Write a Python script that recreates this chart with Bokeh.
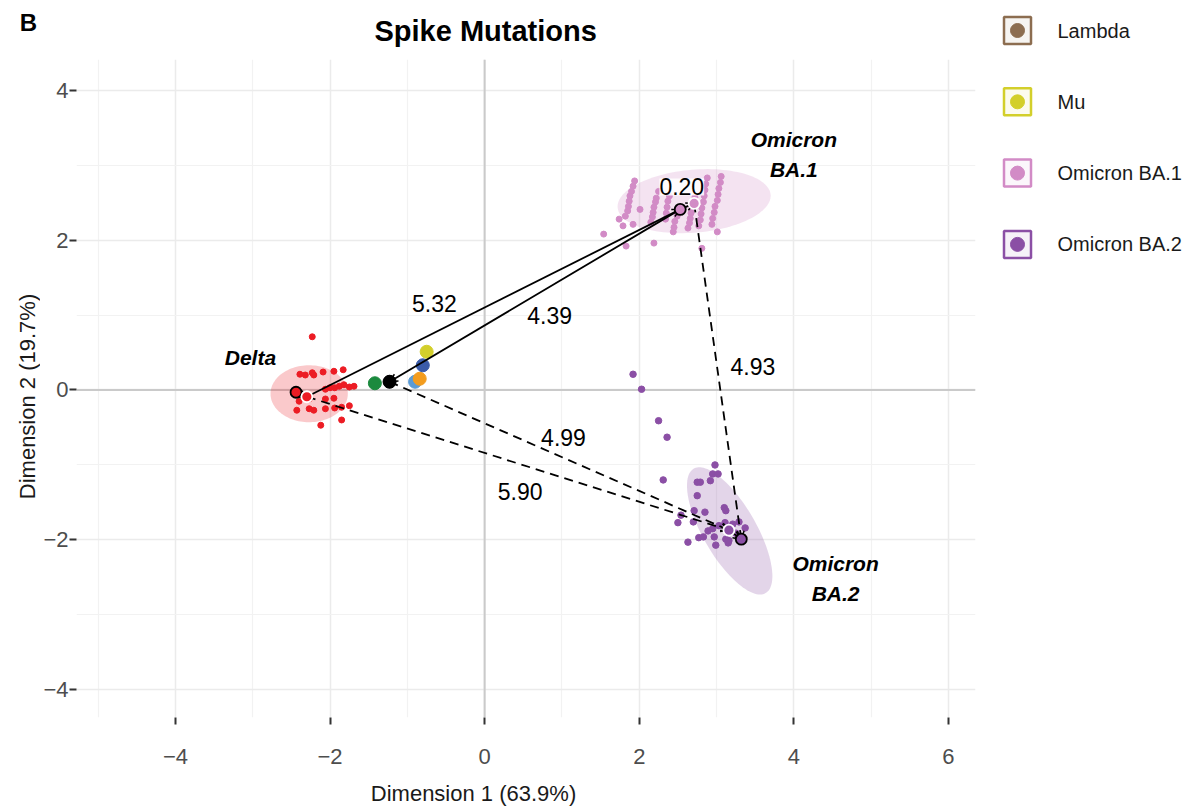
import numpy as np
from bokeh.plotting import figure
from bokeh.layouts import row, column
from bokeh.models import (FixedTicker, Span, Arrow, OpenHead, Range1d)
from bokeh.core.properties import value
from bokeh.embed import file_html
from bokeh.resources import INLINE

FONT = "Liberation Sans"

# ---------------- data ----------------
x_ticks = [-4, -2, 0, 2, 4, 6]
x_tick_labels = ["\u22124", "\u22122", "0", "2", "4", "6"]
x_minor = [-5, -3, -1, 1, 3, 5]
y_ticks = [-4, -2, 0, 2, 4]
y_tick_labels = ["\u22124", "\u22122", "0", "2", "4"]
y_minor = [-3, -1, 1, 3]

delta_x = [-2.23, -2.39, -2.32, -2.23, -2.21, -2.09, -1.95, -1.83, -2.06, -2.00,
           -1.94, -1.88, -1.82, -1.75, -1.69, -2.40, -2.27, -2.43, -2.27, -2.21,
           -2.06, -2.06, -1.95, -1.94, -1.85, -1.75, -1.85, -2.12]
delta_y = [0.71, 0.21, 0.20, 0.23, 0.20, 0.24, 0.25, 0.27, 0.01, 0.03,
           0.03, 0.05, 0.07, 0.04, 0.05, -0.15, -0.12, -0.27, -0.25, -0.27,
           -0.12, -0.25, -0.11, -0.24, -0.23, -0.21, -0.40, -0.47]

ba1_x = [1.94, 1.92, 1.90, 1.88, 1.87, 1.86, 1.85, 1.82,
         1.54, 1.79, 1.74, 1.83, 2.19, 2.01, 1.92,
         2.25, 2.22, 2.21, 2.19, 2.18, 2.17, 2.15,
         2.39, 2.37, 2.36, 2.35, 2.34,
         2.49, 2.46, 2.45, 2.44,
         2.72, 2.70, 2.68, 2.67, 2.66, 2.65, 2.63,
         2.88, 2.86, 2.85, 2.84, 2.83, 2.81, 2.80, 2.79, 2.77,
         3.06, 3.05, 3.03, 3.02, 3.01, 2.98, 2.97, 2.95, 2.94,
         3.01, 2.81]
ba1_y = [2.79, 2.72, 2.65, 2.59, 2.52, 2.45, 2.39, 2.32,
         2.08, 2.19, 2.28, 1.92, 1.96, 2.41, 2.21,
         2.65, 2.56, 2.51, 2.44, 2.37, 2.31, 2.24,
         2.59, 2.52, 2.44, 2.36, 2.28,
         2.32, 2.25, 2.17, 2.11,
         2.57, 2.49, 2.43, 2.36, 2.29, 2.23, 2.16,
         2.83, 2.75, 2.67, 2.59, 2.51, 2.43, 2.35, 2.27, 2.19,
         2.85, 2.77, 2.69, 2.61, 2.53, 2.45, 2.37, 2.29, 2.21,
         2.11, 1.89]

ba2_x = [1.92, 2.03, 2.25, 2.36, 2.31, 2.98, 2.95, 3.02, 2.75, 2.79,
         2.92, 2.75, 2.71, 2.85, 3.10, 3.12, 2.50, 2.54, 2.70, 2.89,
         2.95, 3.03, 3.11, 3.21, 3.29, 3.37, 2.97, 2.77, 2.83, 2.63,
         3.12, 3.15, 3.16, 2.99, 3.25]
ba2_y = [0.21, 0.01, -0.41, -0.63, -1.20, -1.00, -1.12, -1.12, -1.23, -1.23,
         -1.21, -1.41, -1.61, -1.63, -1.57, -1.61, -1.77, -1.67, -1.76, -1.88,
         -1.85, -1.81, -1.77, -1.79, -1.76, -1.84, -1.96, -1.97, -1.96, -2.03,
         -1.99, -2.04, -2.01, -2.07, -1.91]

# other variant centroids (drawn as big dots)
other_x = [-0.90, -0.84, -0.80, -0.75, -1.42, -1.23]
other_y = [0.11, 0.15, 0.33, 0.51, 0.09, 0.11]
other_colors = ["#5B9BD5", "#F39C1E", "#3A5BA9", "#D3CF2B", "#1B8A3E", "#000000"]

# variant colours
c_delta, c_ba1, c_ba2 = "#EC1C24", "#D28BC6", "#8B4FA5"

# ellipses: centre, first half-axis vector, second half-axis vector
ell_cx = [-2.27, 2.71, 3.17]
ell_cy = [-0.05, 2.52, -1.88]
ell_ux = [0.50, 0.99, 0.465]
ell_uy = [0.0, 0.08, -0.83]
ell_vx = [0.0, -0.02, 0.298]
ell_vy = [0.38, 0.42, 0.177]
ell_colors = [c_delta, c_ba1, c_ba2]

# centroids
cent_names = ["D1", "D2", "B1a", "B1b", "B2a", "B2b", "K"]
cent_x = [-2.44, -2.30, 2.53, 2.71, 3.32, 3.16, -1.23]
cent_y = [-0.03, -0.09, 2.41, 2.49, -1.99, -1.87, 0.11]
cent_colors = [c_delta, c_delta, c_ba1, c_ba1, c_ba2, c_ba2, "#000000"]
cent_outline = ["black", "white", "black", "white", "black", "white", "black"]

# segments between centroids
seg_from = ["D2", "B1a", "B1a", "B1b", "K", "D2", "D1", "B2b"]
seg_to = ["B1a", "K", "B1b", "B2a", "B2b", "B2b", "D2", "B2a"]
seg_dashed = [False, False, False, True, True, True, False, False]

dist_text = ["5.32", "4.39", "4.93", "4.99", "5.90"]
dist_x = [-0.65, 0.84, 3.47, 1.02, 0.46]
dist_y = [1.16, 1.00, 0.32, -0.64, -1.36]
small_text = ["0.20"]
small_x = [2.55]
small_y = [2.71]

var_text = ["Delta", "Omicron\nBA.1", "Omicron\nBA.2"]
var_x = [-3.03, 4.00, 4.54]
var_y = [0.43, 3.14, -2.51]

leg_names = ["Lambda", "Mu", "Omicron BA.1", "Omicron BA.2"]
leg_colors = ["#8C6D50", "#D3CF2B", c_ba1, c_ba2]

H = 806          # total height
HM = 776         # height of the main plot (x-axis title strip below it)
LW, MW, RW = 40, 953, 198

# ---------------- main plot ----------------
p = figure(width=MW, height=HM, x_range=(-5.28, 6.35), y_range=(-4.37, 4.41),
           output_backend="svg", toolbar_location=None,
           min_border_left=34, min_border_right=18, min_border_top=58,
           min_border_bottom=HM - 717, frame_align=False)
p.outline_line_color = None
p.background_fill_color = "white"

p.title.text = "Spike Mutations"
p.title.align = "left"
p.title.offset = 298
p.title.text_font = FONT
p.title.text_font_size = "29px"
p.title.text_font_style = "bold"
p.title.text_color = "black"
p.title.standoff = 25

p.xaxis.ticker = FixedTicker(ticks=x_ticks, minor_ticks=x_minor)
p.yaxis.ticker = FixedTicker(ticks=y_ticks, minor_ticks=y_minor)
p.xaxis.major_label_overrides = dict(zip(x_ticks, x_tick_labels))
p.yaxis.major_label_overrides = dict(zip(y_ticks, y_tick_labels))
for ax in (p.xaxis, p.yaxis):
    ax.axis_line_color = None
    ax.minor_tick_line_color = None
    ax.major_tick_in = 0
    ax.major_tick_out = 7
    ax.major_tick_line_color = "#333333"
    ax.major_tick_line_width = 2
    ax.major_label_text_font = FONT
    ax.major_label_text_font_size = "22px"
    ax.major_label_text_color = "#4D4D4D"
p.xaxis.major_label_standoff = 24
p.yaxis.major_label_standoff = 1

p.grid.grid_line_color = "#EBEBEB"
p.grid.grid_line_width = 1.5
p.grid.minor_grid_line_color = "#F2F2F2"
p.grid.minor_grid_line_width = 1.2

p.add_layout(Span(location=0, dimension="height", line_color="#CACACA",
                  line_width=2, level="underlay"))
p.add_layout(Span(location=0, dimension="width", line_color="#CACACA",
                  line_width=2, level="underlay"))

# ellipses
t = np.linspace(0, 2 * np.pi, 120)
for cx, cy, ux, uy, vx, vy, col in zip(ell_cx, ell_cy, ell_ux, ell_uy, ell_vx, ell_vy, ell_colors):
    ex = cx + np.cos(t) * ux + np.sin(t) * vx
    ey = cy + np.cos(t) * uy + np.sin(t) * vy
    p.patch(ex, ey, fill_color=col, fill_alpha=0.24, line_color=None)

# points
p.scatter(delta_x, delta_y, size=6, color=c_delta)
p.scatter(ba1_x, ba1_y, size=6, color=c_ba1)
p.scatter(ba2_x, ba2_y, size=6.5, color=c_ba2)
p.scatter(other_x, other_y, size=13, color=other_colors)

# segments / arrows
cidx = {n: i for i, n in enumerate(cent_names)}
for a, b, dashed in zip(seg_from, seg_to, seg_dashed):
    i, j = cidx[a], cidx[b]
    arr = Arrow(x_start=cent_x[i], y_start=cent_y[i], x_end=cent_x[j], y_end=cent_y[j],
                line_color="black", line_width=1.8,
                line_dash="9 6" if dashed else "solid",
                end=OpenHead(size=8, line_width=1.5, line_color="black"))
    p.add_layout(arr)

cr = p.scatter(cent_x, cent_y, size=11, fill_color=cent_colors,
               line_color=cent_outline, line_width=1.8)
cr.level = "overlay"

p.text(dist_x, dist_y, text=dist_text, text_font=value(FONT), text_font_size="23px",
       text_align="center", text_baseline="middle", text_color="black")
p.text(small_x, small_y, text=small_text, text_font=value(FONT), text_font_size="23px",
       text_align="center", text_baseline="middle", text_color="black",
       background_fill_color="white", background_fill_alpha=0.85)
p.text(var_x, var_y, text=var_text, text_font=value(FONT), text_font_size="21px",
       text_font_style="bold italic", text_align="center", text_baseline="middle",
       text_color="black", text_line_height=1.3)


def pixel_fig(w, h):
    f = figure(width=w, height=h, x_range=Range1d(0, w), y_range=Range1d(h, 0),
               output_backend="svg", toolbar_location=None, min_border=0,
               x_axis_location=None, y_axis_location=None, title=None,
               frame_align=False)
    f.grid.visible = False
    f.outline_line_color = None
    return f


# ---------------- left strip: panel tag + y-axis title ----------------
lf = pixel_fig(LW, H)
lf.text([28], [22], text=["B"], text_font=value(FONT), text_font_size="24px",
        text_font_style="bold", text_align="center", text_baseline="middle",
        text_color="black")
lf.text([27], [396], text=["Dimension 2 (19.7%)"], text_font=value(FONT),
        text_font_size="22px", text_align="center", text_baseline="middle",
        text_color="#1A1A1A", angle=np.pi / 2)

# ---------------- bottom strip: x-axis title ----------------
bf = pixel_fig(MW, H - HM)
bf.text([473 - LW], [793 - HM], text=["Dimension 1 (63.9%)"], text_font=value(FONT),
        text_font_size="22px", text_align="center", text_baseline="middle",
        text_color="#1A1A1A")

# ---------------- legend strip ----------------
lg = pixel_fig(RW, H)
leg_y = [30 + 71.3 * i for i in range(len(leg_names))]
leg_x = [1017 - LW - MW] * len(leg_names)
lg.scatter(leg_x, leg_y, marker="square", size=27, fill_color=leg_colors,
           fill_alpha=0.08, line_color=leg_colors, line_width=2.5)
lg.scatter(leg_x, leg_y, marker="circle", size=14, color=leg_colors)
lg.text([1057 - LW - MW] * len(leg_names), leg_y, text=leg_names, text_font=value(FONT),
        text_font_size="20px", text_baseline="middle", text_color="#1A1A1A")

layout = row(lf, column(p, bf), lg)
open("out.html", "w").write(file_html(layout, INLINE))
